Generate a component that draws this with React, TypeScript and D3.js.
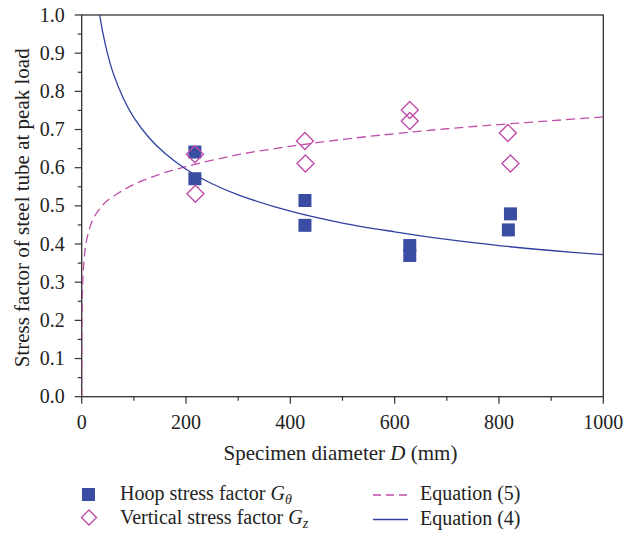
import React from "react";
import * as d3 from "d3";

// Measured stress factors at peak load, by specimen diameter D (mm)
const hoopD = [217, 217, 428, 428, 629, 629, 822, 818];
const hoopG = [0.641, 0.571, 0.514, 0.449, 0.396, 0.37, 0.479, 0.437];
const vertD = [217, 218, 428, 429, 629, 629, 817, 822];
const vertG = [0.635, 0.532, 0.67, 0.611, 0.751, 0.722, 0.691, 0.611];

// Equation (5): vertical stress factor curve
const eq5D = [0, 0.3, 1, 2, 4, 7, 11, 20, 30, 46, 70, 100, 150, 200, 300, 400, 500, 600, 700, 800, 900, 1000];
const eq5G = [0, 0.12, 0.24, 0.3, 0.35, 0.39, 0.42, 0.46, 0.484, 0.51, 0.533, 0.556, 0.583, 0.603, 0.634, 0.656, 0.674, 0.689, 0.702, 0.713, 0.723, 0.733];

// Equation (4): hoop stress factor curve
const eq4D = [34.5, 40, 50, 60, 80, 100, 130, 160, 200, 250, 300, 400, 500, 600, 700, 800, 900, 1000];
const eq4G = [1.0, 0.957, 0.896, 0.849, 0.781, 0.731, 0.677, 0.637, 0.596, 0.558, 0.529, 0.486, 0.455, 0.432, 0.412, 0.396, 0.383, 0.372];

const xMajor = [0, 200, 400, 600, 800, 1000];
const xMinor = [100, 300, 500, 700, 900];
const yMajor = [0, 0.1, 0.2, 0.3, 0.4, 0.5, 0.6, 0.7, 0.8, 0.9, 1.0];
const yMinor = [0.05, 0.15, 0.25, 0.35, 0.45, 0.55, 0.65, 0.75, 0.85, 0.95];

const BLUE = "#3a4da3";
const LINE_BLUE = "#2f40a0";
const PINK = "#c04ea8";
const AXIS = "#333";
const TEXT = "#222";
const FONT = "'Liberation Serif', 'DejaVu Serif', serif";

export default function App() {
  const W = 625;
  const H = 537;
  const left = 81.7;
  const right = 603.3;
  const top = 15;
  const bottom = 396.7;

  const x = d3.scaleLinear().domain([0, 1000]).range([left, right]);
  const y = d3.scaleLinear().domain([0, 1]).range([bottom, top]);

  const line = d3
    .line<[number, number]>()
    .x((d) => x(d[0]))
    .y((d) => y(d[1]))
    .curve(d3.curveCatmullRom.alpha(0.5));

  const eq5Path = line(eq5D.map((d, i) => [d, eq5G[i]]) as [number, number][]) || "";
  const eq4Path = line(eq4D.map((d, i) => [d, eq4G[i]]) as [number, number][]) || "";

  const sq = 13;
  const dia = 8.5;
  const diamond = (cx: number, cy: number, r: number) =>
    `M${cx},${cy - r}L${cx + r},${cy}L${cx},${cy + r}L${cx - r},${cy}Z`;

  return (
    <svg
      width={W}
      height={H}
      style={{ position: "absolute", left: 0, top: 0, background: "#fff" }}
      fontFamily={FONT}
    >
      <defs>
        <clipPath id="plot">
          <rect x={left} y={top} width={right - left} height={bottom - top} />
        </clipPath>
      </defs>

      {/* frame */}
      <rect
        x={left}
        y={top}
        width={right - left}
        height={bottom - top}
        fill="none"
        stroke={AXIS}
        strokeWidth={1.3}
      />

      {/* x ticks */}
      {xMajor.map((v) => (
        <g key={"xM" + v}>
          <line x1={x(v)} x2={x(v)} y1={bottom} y2={bottom + 7} stroke={AXIS} strokeWidth={1.2} />
          <text x={x(v)} y={bottom + 32} fontSize={20} textAnchor="middle" fill={TEXT}>
            {v}
          </text>
        </g>
      ))}
      {xMinor.map((v) => (
        <line key={"xm" + v} x1={x(v)} x2={x(v)} y1={bottom} y2={bottom + 4} stroke={AXIS} strokeWidth={1.2} />
      ))}

      {/* y ticks */}
      {yMajor.map((v) => (
        <g key={"yM" + v}>
          <line x1={left - 7} x2={left} y1={y(v)} y2={y(v)} stroke={AXIS} strokeWidth={1.2} />
          <text x={left - 17} y={y(v) + 6.5} fontSize={20} textAnchor="end" fill={TEXT}>
            {v.toFixed(1)}
          </text>
        </g>
      ))}
      {yMinor.map((v) => (
        <line key={"ym" + v} x1={left - 4} x2={left} y1={y(v)} y2={y(v)} stroke={AXIS} strokeWidth={1.2} />
      ))}

      {/* axis titles */}
      <text x={(left + right) / 2 - 2} y={bottom + 63} fontSize={21} textAnchor="middle" fill={TEXT}>
        Specimen diameter <tspan fontStyle="italic">D</tspan> (mm)
      </text>
      <text
        transform={`translate(${29},${(top + bottom) / 2 + 2}) rotate(-90)`}
        fontSize={21}
        textAnchor="middle"
        fill={TEXT}
      >
        Stress factor of steel tube at peak load
      </text>

      {/* fitted curves */}
      <g clipPath="url(#plot)">
        <path d={eq5Path} fill="none" stroke={PINK} strokeWidth={1.3} strokeDasharray="9,5" />
        <path d={eq4Path} fill="none" stroke={LINE_BLUE} strokeWidth={1.3} />
      </g>

      {/* hoop stress factor */}
      {hoopD.map((d, i) => (
        <rect
          key={"h" + i}
          x={x(d) - sq / 2}
          y={y(hoopG[i]) - sq / 2}
          width={sq}
          height={sq}
          fill={BLUE}
        />
      ))}

      {/* vertical stress factor */}
      {vertD.map((d, i) => (
        <path
          key={"v" + i}
          d={diamond(x(d), y(vertG[i]), dia)}
          fill="none"
          stroke={PINK}
          strokeWidth={1.4}
        />
      ))}

      {/* legend */}
      <g fill={TEXT} fontSize={20}>
        <rect x={82} y={488} width={13} height={13} fill={BLUE} />
        <text x={120} y={500}>
          Hoop stress factor <tspan fontStyle="italic">G</tspan>
          <tspan fontStyle="italic" fontSize={14} dy={4}>θ</tspan>
        </text>
        <path d={diamond(89, 517.5, 7.5)} fill="none" stroke={PINK} strokeWidth={1.4} />
        <text x={120} y={524}>
          Vertical stress factor <tspan fontStyle="italic">G</tspan>
          <tspan fontStyle="italic" fontSize={14} dy={4}>z</tspan>
        </text>
        <line x1={373} x2={408} y1={495} y2={495} stroke={PINK} strokeWidth={1.3} strokeDasharray="8,5" />
        <text x={420} y={500}>Equation (5)</text>
        <line x1={373} x2={408} y1={519.5} y2={519.5} stroke={LINE_BLUE} strokeWidth={1.3} />
        <text x={420} y={525}>Equation (4)</text>
      </g>
    </svg>
  );
}
